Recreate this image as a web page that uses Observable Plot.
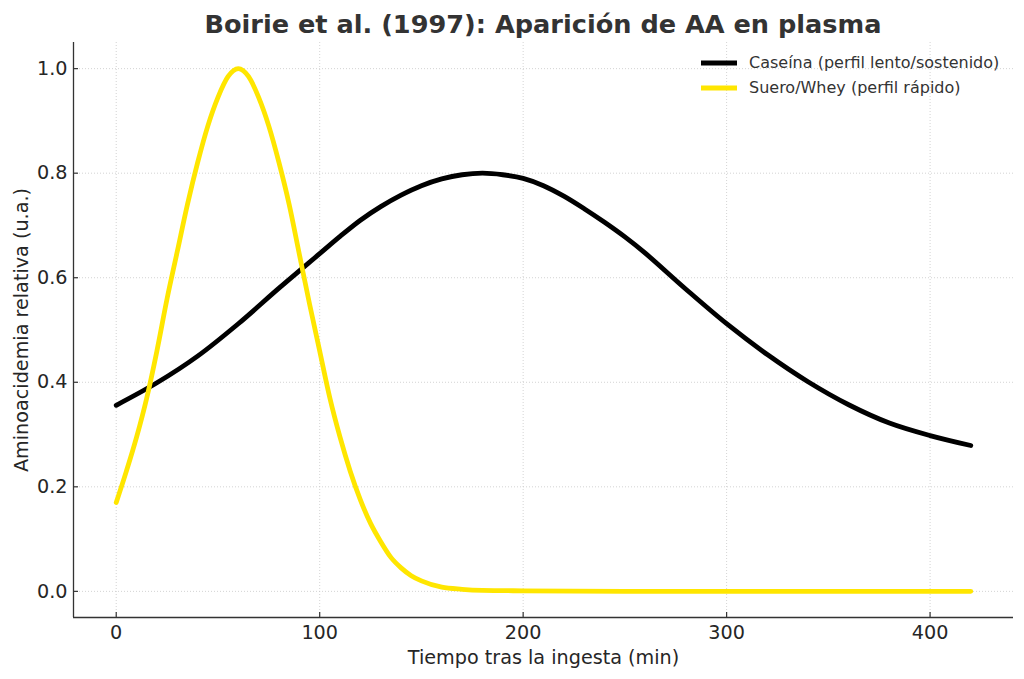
<!DOCTYPE html>
<html>
<head>
<meta charset="utf-8">
<script src="https://cdn.jsdelivr.net/npm/d3@7"></script>
<script src="https://cdn.jsdelivr.net/npm/@observablehq/plot@0.6"></script>
<style>
  html, body { margin: 0; padding: 0; background: #ffffff; }
  body { font-family: "DejaVu Sans", sans-serif; }
  #wrap { position: relative; width: 1024px; height: 679px; overflow: hidden; }
  #title { height: 42px; box-sizing: border-box; padding-left: 73px; padding-right: 11px;
           text-align: center; font-weight: bold; font-size: 25.6px; line-height: 48px; color: #333333; white-space: nowrap; }
  #legend { position: absolute; left: 700px; top: 50px; font-size: 16px; color: #333333; }
  .item { position: absolute; left: 0; height: 25px; white-space: nowrap; display: flex; align-items: center; }
  .item svg { display: block; margin-right: 11px; }
</style>
</head>
<body>
<div id="wrap">
  <div id="title"></div>
  <div id="chart"></div>
  <div id="legend"></div>
</div>
<script>
const title = "Boirie et al. (1997): Aparición de AA en plasma";
const xLabel = "Tiempo tras la ingesta (min)";
const yLabel = "Aminoacidemia relativa (u.a.)";
const seriesNames = ["Caseína (perfil lento/sostenido)", "Suero/Whey (perfil rápido)"];
const seriesColors = ["#000000", "#ffe600"];

// Casein (slow / sustained)
const caseinTime  = [0, 20, 40, 60, 80, 100, 110, 120, 130, 140, 150, 160, 170, 180, 190, 200, 210, 220, 230, 240, 250, 260, 280, 300, 320, 340, 360, 380, 400, 420];
const caseinValue = [0.356, 0.399, 0.450, 0.512, 0.580, 0.646, 0.679, 0.710, 0.736, 0.758, 0.776, 0.789, 0.797, 0.800, 0.797, 0.790, 0.776, 0.756, 0.732, 0.706, 0.678, 0.647, 0.578, 0.512, 0.453, 0.401, 0.357, 0.322, 0.298, 0.279];

// Whey (fast)
const wheyTime  = [0, 5, 10, 15, 20, 25, 30, 35, 40, 45, 50, 55, 60, 65, 70, 75, 80, 85, 90, 95, 100, 105, 110, 115, 120, 125, 130, 135, 140, 145, 150, 160, 170, 180, 200, 250, 300, 350, 400, 420];
const wheyValue = [0.170, 0.230, 0.295, 0.370, 0.460, 0.560, 0.650, 0.740, 0.820, 0.890, 0.945, 0.985, 1.000, 0.985, 0.945, 0.890, 0.820, 0.740, 0.645, 0.550, 0.460, 0.370, 0.295, 0.230, 0.175, 0.130, 0.095, 0.065, 0.045, 0.030, 0.020, 0.008, 0.004, 0.002, 0.001, 0, 0, 0, 0, 0];

const xTicks = [0, 100, 200, 300, 400];
const yTicks = [0, 0.2, 0.4, 0.6, 0.8, 1.0];
const xDomain = [-21, 441];
const yDomain = [-0.05, 1.05];

const W = 1024, H = 637;
const mL = 73, mR = 11, mT = 0, mB = 62;
const plotW = W - mL - mR, plotH = H - mT - mB;

const casein = caseinTime.map((t, i) => ({t, v: caseinValue[i]}));
const whey = wheyTime.map((t, i) => ({t, v: wheyValue[i]}));

document.getElementById("title").textContent = title;

const chart = Plot.plot({
  width: W,
  height: H,
  marginLeft: mL,
  marginRight: mR,
  marginTop: mT,
  marginBottom: mB,
  style: { fontFamily: "DejaVu Sans, sans-serif", fontSize: "19.2px", color: "#262626", background: "#ffffff", overflow: "visible" },
  x: { domain: xDomain },
  y: { domain: yDomain },
  marks: [
    Plot.gridX(xTicks, { stroke: "#c8c8c8", strokeOpacity: 1, strokeWidth: 0.8, strokeDasharray: "1,2" }),
    Plot.gridY(yTicks, { stroke: "#c8c8c8", strokeOpacity: 1, strokeWidth: 0.8, strokeDasharray: "1,2" }),
    Plot.line(casein, { x: "t", y: "v", stroke: seriesColors[0], strokeWidth: 4.8, curve: "catmull-rom" }),
    Plot.line(whey, { x: "t", y: "v", stroke: seriesColors[1], strokeWidth: 4.8, curve: "monotone-x" }),
    Plot.ruleX([xDomain[0]], { stroke: "#333333", strokeWidth: 1.3 }),
    Plot.ruleY([yDomain[0]], { stroke: "#333333", strokeWidth: 1.3 }),
    Plot.tickX(xTicks, { x: d => d, stroke: "#333333", strokeWidth: 1.2, insetTop: plotH - 5 }),
    Plot.tickY(yTicks, { y: d => d, stroke: "#333333", strokeWidth: 1.2, insetRight: plotW - 5 }),
    Plot.axisX(xTicks, { anchor: "bottom", tickSize: 0, tickPadding: 8, label: null, tickFormat: d => String(d) }),
    Plot.axisY(yTicks, { anchor: "left", tickSize: 0, tickPadding: 6, label: null, tickFormat: d3.format(".1f") }),
    Plot.text([xLabel], { text: d => d, frameAnchor: "bottom", dy: 40, lineAnchor: "middle", fontSize: 19.2, fill: "#262626" }),
    Plot.text([yLabel], { text: d => d, frameAnchor: "left", dx: -52, rotate: -90, lineAnchor: "middle", textAnchor: "middle", fontSize: 19.2, fill: "#262626" })
  ]
});
document.getElementById("chart").appendChild(chart);

const legend = document.getElementById("legend");
seriesNames.forEach((name, i) => {
  const item = document.createElement("div");
  item.className = "item";
  item.style.top = (i * 25) + "px";
  item.innerHTML = `<svg width="38" height="10"><line x1="1" x2="37" y1="5" y2="5" stroke="${seriesColors[i]}" stroke-width="4.8"/></svg><span></span>`;
  item.querySelector("span").textContent = name;
  legend.appendChild(item);
});
</script>
</body>
</html>
